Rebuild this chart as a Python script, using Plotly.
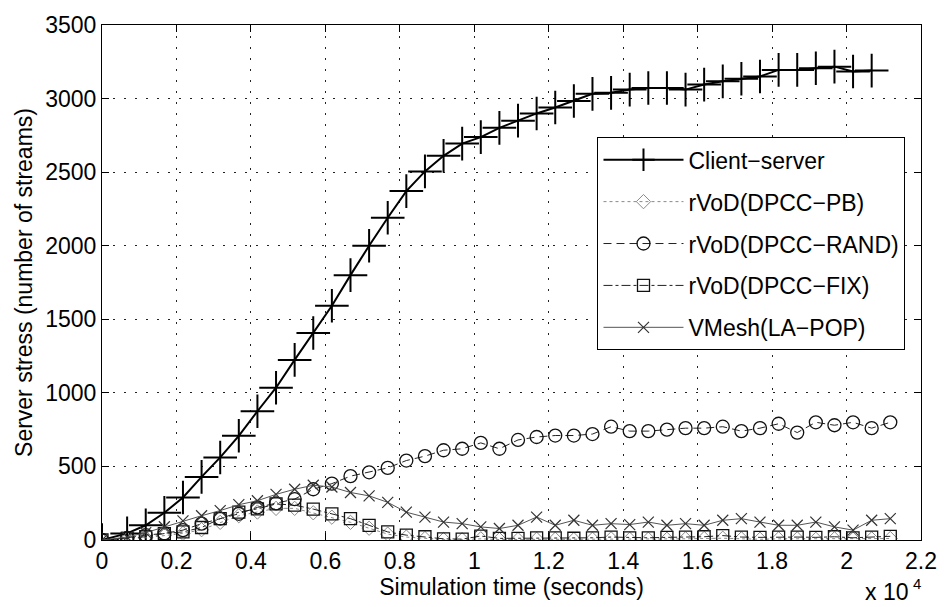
import plotly.graph_objects as go

# time axis (seconds)
time_s = [0, 675, 1175, 1675, 2175, 2675, 3175, 3675, 4175, 4675, 5175,
          5675, 6175, 6675, 7175, 7675, 8175, 8675, 9175, 9675, 10175,
          10675, 11175, 11675, 12175, 12675, 13175, 13675, 14175, 14675, 15175,
          15675, 16175, 16675, 17175, 17675, 18175, 18675, 19175, 19675, 20175,
          20675, 21175]

client_server = [0, 45, 100, 185, 289, 429, 561, 708, 875, 1035, 1224,
                 1407, 1592, 1800, 2000, 2190, 2371, 2505, 2611, 2694, 2738,
                 2801, 2850, 2899, 2939, 2983, 3032, 3039, 3061, 3072, 3072,
                 3061, 3095, 3117, 3135, 3150, 3195, 3195, 3206, 3217, 3184,
                 3190]

dpcc_pb = [0, 5, 15, 30, 45, 70, 120, 165, 190, 215, 215,
           185, 155, 120, 80, 40, 20, 10, 3, 2, 8,
           3, 3, 5, 5, 3, 5, 8, 5, 5, 5,
           8, 10, 12, 8, 5, 8, 8, 5, 8, 5,
           8, 10]

dpcc_rand = [0, 15, 33, 45, 67, 111, 145, 178, 222, 249, 278,
             345, 383, 434, 460, 490, 540, 570, 610, 620, 660,
             620, 680, 700, 710, 710, 720, 770, 740, 740, 750,
             760, 760, 770, 740, 760, 790, 730, 800, 780, 800,
             760, 800]

dpcc_fix = [0, 11, 22, 44, 55, 85, 145, 189, 212, 245, 237,
            210, 178, 145, 100, 55, 33, 22, 8, 6, 27,
            11, 11, 15, 15, 12, 15, 20, 15, 15, 18,
            20, 22, 30, 20, 18, 20, 20, 18, 22, 15,
            20, 25]

vmesh = [0, 20, 50, 90, 130, 165, 200, 240, 267, 310, 345,
         372, 360, 323, 300, 256, 189, 156, 122, 111, 89,
         78, 100, 156, 100, 134, 100, 111, 105, 122, 100,
         111, 100, 134, 145, 122, 100, 100, 122, 89, 67,
         134, 145]

x_tick_vals = [0, 2000, 4000, 6000, 8000, 10000, 12000, 14000, 16000, 18000, 20000, 22000]
x_tick_text = ["0", "0.2", "0.4", "0.6", "0.8", "1", "1.2", "1.4", "1.6", "1.8", "2", "2.2"]
y_tick_vals = [0, 500, 1000, 1500, 2000, 2500, 3000, 3500]

FONT = "Liberation Sans, Arial, Helvetica, sans-serif"
FS = 23

fig = go.Figure()

fig.add_trace(go.Scatter(
    x=time_s[:len(client_server)], y=client_server, name="Client\u2212server",
    mode="lines+markers", legendgroup="a",
    line=dict(color="black", width=2),
    marker=dict(symbol="cross-thin-open", size=24, color="black",
                line=dict(color="black", width=2)),
))
fig.add_trace(go.Scatter(
    x=time_s, y=dpcc_pb, name="rVoD(DPCC\u2212PB)",
    mode="lines+markers", legendgroup="b",
    line=dict(color="#8a8a8a", width=1, dash="dot"),
    marker=dict(symbol="diamond-open", size=11, color="#8a8a8a",
                line=dict(color="#8a8a8a", width=1)),
))
fig.add_trace(go.Scatter(
    x=time_s, y=dpcc_rand, name="rVoD(DPCC\u2212RAND)",
    mode="lines+markers", legendgroup="c",
    line=dict(color="#222", width=1, dash="8px,5px"),
    marker=dict(symbol="circle-open", size=13, color="#111",
                line=dict(color="#111", width=1.3)),
))
fig.add_trace(go.Scatter(
    x=time_s, y=dpcc_fix, name="rVoD(DPCC\u2212FIX)",
    mode="lines+markers", legendgroup="d",
    line=dict(color="#222", width=1, dash="dashdot"),
    marker=dict(symbol="square-open", size=12, color="#111",
                line=dict(color="#111", width=1.3)),
))
fig.add_trace(go.Scatter(
    x=time_s, y=vmesh, name="VMesh(LA\u2212POP)",
    mode="lines+markers", legendgroup="e",
    line=dict(color="#555", width=1),
    marker=dict(symbol="x-thin-open", size=11, color="#333",
                line=dict(color="#333", width=1.2)),
))

axis_common = dict(
    showline=True, linecolor="black", linewidth=1, mirror="ticks",
    ticks="inside", ticklen=7, tickcolor="black", tickwidth=1,
    showgrid=True, gridcolor="#222", griddash="2px,9px", gridwidth=1,
    zeroline=False, tickfont=dict(size=FS, color="black", family=FONT),
)

fig.update_layout(
    width=949, height=607,
    margin=dict(l=102, r=17, t=16, b=67),
    plot_bgcolor="white", paper_bgcolor="white",
    font=dict(family=FONT, size=FS, color="black"),
    xaxis=dict(range=[0, 22000], tickvals=x_tick_vals, ticktext=x_tick_text,
               title=dict(text="Simulation time (seconds)", standoff=0,
                          font=dict(size=FS)),
               **axis_common),
    yaxis=dict(range=[0, 3500], tickvals=y_tick_vals,
               title=dict(text="Server stress (number of streams)", standoff=6,
                          font=dict(size=FS)),
               **axis_common),
    legend=dict(x=0.605, y=0.782, xanchor="left", yanchor="top",
                bgcolor="white", bordercolor="black", borderwidth=1,
                font=dict(size=FS, family=FONT), itemwidth=80,
                tracegroupgap=9, traceorder="grouped"),
    showlegend=True,
)

fig.add_annotation(
    text="x 10", xref="paper", yref="paper",
    x=0.9867, y=-0.130, xanchor="right", yanchor="bottom",
    showarrow=False, font=dict(size=23, color="black", family=FONT),
)
fig.add_annotation(
    text="4", xref="paper", yref="paper",
    x=0.9875, y=-0.104, xanchor="left", yanchor="bottom",
    showarrow=False, font=dict(size=15, color="black", family=FONT),
)

fig.write_html("out.html")
